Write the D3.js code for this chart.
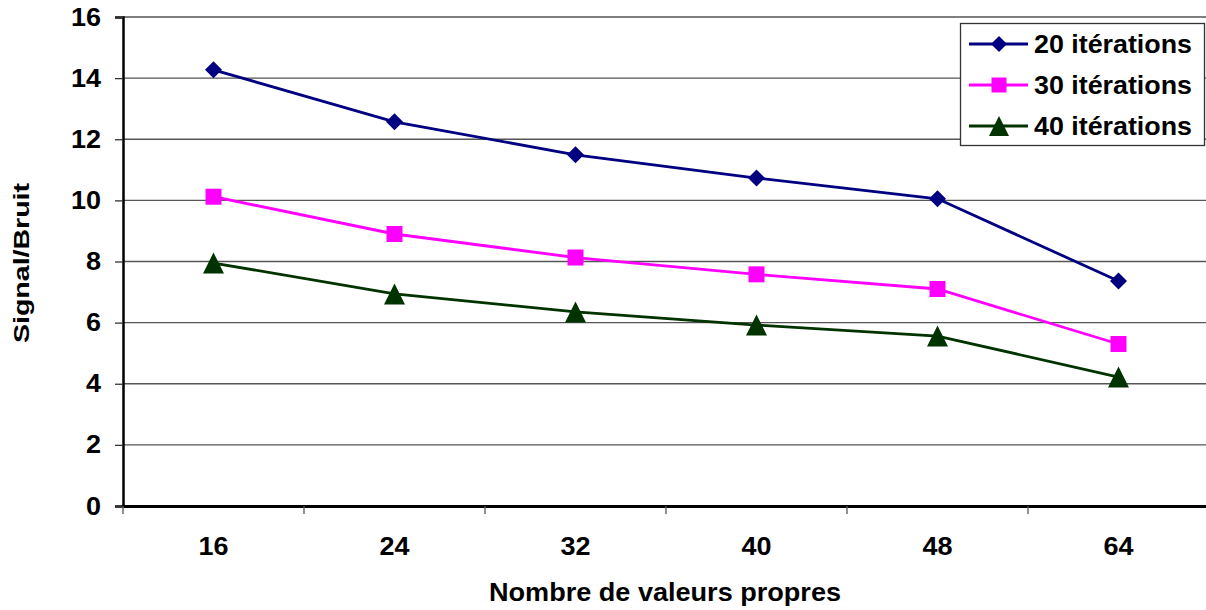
<!DOCTYPE html>
<html>
<head>
<meta charset="utf-8">
<script src="https://cdn.jsdelivr.net/npm/d3@7"></script>
<style>
  body { margin: 0; background: #fff; }
  text { font-family: "Liberation Sans", Arial, sans-serif; font-weight: bold; }
</style>
</head>
<body>
<svg width="1206" height="610"></svg>
<script>
// Data
let categories = ["16", "24", "32", "40", "48", "64"];
let iter20 = [14.27, 12.57, 11.49, 10.73, 10.05, 7.36];
let iter30 = [10.12, 8.90, 8.13, 7.58, 7.10, 5.30];
let iter40 = [7.95, 6.94, 6.35, 5.92, 5.56, 4.22];
let yTicks = [0, 2, 4, 6, 8, 10, 12, 14, 16];

// marker shapes (size = width in px)
let diamond = {
  draw(ctx, s) {
    let r = s / 2;
    ctx.moveTo(0, -r); ctx.lineTo(r, 0); ctx.lineTo(0, r); ctx.lineTo(-r, 0); ctx.closePath();
  }
};
let square = {
  draw(ctx, s) {
    let r = s / 2;
    ctx.moveTo(-r, -r); ctx.lineTo(r, -r); ctx.lineTo(r, r); ctx.lineTo(-r, r); ctx.closePath();
  }
};
let triangle = {
  draw(ctx, s) {
    let r = s / 2;
    ctx.moveTo(0, -r); ctx.lineTo(r, r); ctx.lineTo(-r, r); ctx.closePath();
  }
};

let series = [
  { name: "20 itérations", values: iter20, color: "#000080", symbol: diamond, size: 17 },
  { name: "30 itérations", values: iter30, color: "#ff00ff", symbol: square, size: 16 },
  { name: "40 itérations", values: iter40, color: "#003300", symbol: triangle, size: 21 }
];

let svg = d3.select("svg");
let plotLeft = 123, plotRight = 1209, plotTop = 17, plotBottom = 506;

let x = d3.scaleBand().domain(categories).range([plotLeft, plotRight]);
let y = d3.scaleLinear().domain([0, 16]).range([plotBottom, plotTop]);

// gridlines
svg.append("g")
  .selectAll("line")
  .data(yTicks.filter(d => d > 0))
  .enter()
  .append("line")
  .attr("x1", plotLeft).attr("x2", plotRight)
  .attr("y1", d => y(d)).attr("y2", d => y(d))
  .attr("stroke", "#555")
  .attr("stroke-width", 1.4);

// y axis
let yAxis = svg.append("g")
  .attr("transform", `translate(${plotLeft},0)`)
  .call(d3.axisLeft(y).tickValues(yTicks).tickSize(8).tickPadding(14));
yAxis.select(".domain").attr("stroke", "#000").attr("stroke-width", 2.5);
yAxis.selectAll(".tick line").attr("stroke", "#333").attr("stroke-width", 1.3);
yAxis.selectAll("text")
  .attr("font-size", 25).attr("fill", "#000")
  .attr("textLength", d => String(d).length * 15)
  .attr("lengthAdjust", "spacingAndGlyphs");

// x axis
let xAxis = svg.append("g")
  .attr("transform", `translate(0,${plotBottom})`)
  .call(d3.axisBottom(x).tickSize(0).tickPadding(31));
xAxis.select(".domain").attr("stroke", "#000").attr("stroke-width", 3);
xAxis.selectAll("text")
  .attr("font-size", 25).attr("fill", "#000")
  .attr("textLength", d => d.length * 15)
  .attr("lengthAdjust", "spacingAndGlyphs");

// x tick marks at band boundaries
svg.append("g")
  .selectAll("line")
  .data(categories)
  .enter()
  .append("line")
  .attr("x1", d => x(d)).attr("x2", d => x(d))
  .attr("y1", plotBottom).attr("y2", plotBottom + 8)
  .attr("stroke", "#555")
  .attr("stroke-width", 1.3);

// lines and markers
let line = d3.line()
  .x((d, i) => x(categories[i]) + x.bandwidth() / 2)
  .y(d => y(d));

series.forEach(s => {
  svg.append("path")
    .attr("d", line(s.values))
    .attr("fill", "none")
    .attr("stroke", s.color)
    .attr("stroke-width", 2.8);

  svg.append("g")
    .selectAll("path")
    .data(s.values)
    .enter()
    .append("path")
    .attr("d", d3.symbol().type(s.symbol).size(s.size))
    .attr("transform", (d, i) => `translate(${x(categories[i]) + x.bandwidth() / 2},${y(d)})`)
    .attr("fill", s.color);
});

// legend
let legend = svg.append("g");
legend.append("rect")
  .attr("x", 960.5).attr("y", 23.5)
  .attr("width", 244).attr("height", 122)
  .attr("fill", "#fff")
  .attr("stroke", "#333")
  .attr("stroke-width", 1.3);

series.forEach((s, i) => {
  let ly = 44 + i * 41;
  legend.append("line")
    .attr("x1", 969).attr("x2", 1028)
    .attr("y1", ly).attr("y2", ly)
    .attr("stroke", s.color)
    .attr("stroke-width", 2.8);
  legend.append("path")
    .attr("d", d3.symbol().type(s.symbol).size(s.size - 1))
    .attr("transform", `translate(999,${ly})`)
    .attr("fill", s.color);
  legend.append("text")
    .attr("x", 1034).attr("y", ly)
    .attr("dy", "0.36em")
    .attr("font-size", 25)
    .attr("textLength", 158)
    .attr("lengthAdjust", "spacingAndGlyphs")
    .text(s.name);
});

// axis titles
svg.append("text")
  .attr("transform", "translate(29,263) rotate(-90)")
  .attr("text-anchor", "middle")
  .attr("font-size", 22)
  .attr("textLength", 160)
  .attr("lengthAdjust", "spacingAndGlyphs")
  .text("Signal/Bruit");

svg.append("text")
  .attr("x", 665).attr("y", 601)
  .attr("text-anchor", "middle")
  .attr("font-size", 25)
  .attr("textLength", 352)
  .attr("lengthAdjust", "spacingAndGlyphs")
  .text("Nombre de valeurs propres");
</script>
</body>
</html>
